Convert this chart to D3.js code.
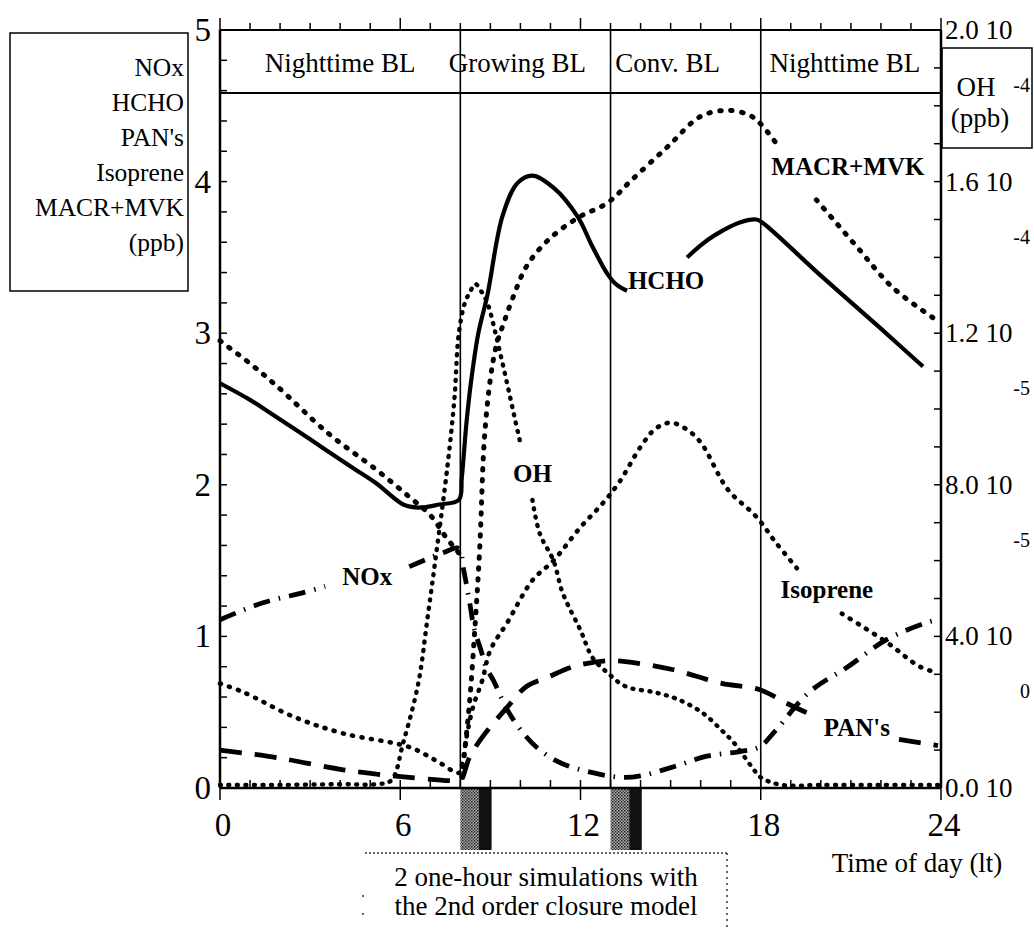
<!doctype html>
<html>
<head>
<meta charset="utf-8">
<title>Boundary layer chemistry</title>
<script src="https://cdn.jsdelivr.net/npm/d3@7"></script>
<style>
  body { margin: 0; background: #fff; }
  text { font-family: "Liberation Serif", "Times New Roman", serif; fill: #000; }
</style>
</head>
<body>
<script>

// DATA (hour of day, ppb) - null breaks the line where a label sits
var hcho = [[0,2.67],[1,2.56],[1.7,2.47],[3,2.30],[4.35,2.12],[5.2,2.01],[6.1,1.87],[6.6,1.85],[7.3,1.87],[7.95,1.90],
  [8.05,2.05],[8.2,2.4],[8.35,2.67],[8.6,3.0],[8.9,3.25],[9.4,3.77],[9.9,3.99],[10.4,4.04],[11.1,3.96],[11.9,3.77],
  [12.4,3.57],[12.9,3.39],[13.2,3.32],[13.55,3.28], null,
  [15.55,3.50],[16,3.58],[16.5,3.65],[17.3,3.73],[17.85,3.75],[18.05,3.73],[20,3.38],[22,3.03],[23.4,2.78]];

var macrMvk = [[0,2.95],[1,2.8],[1.9,2.65],[3.6,2.34],[5.2,2.10],[6.3,1.92],[7.0,1.8],[7.5,1.66],[7.95,1.55], null,
  [8.05,0.07],[8.3,0.55],[8.5,1.1],[8.65,1.6],[8.8,2.3],[9.0,2.7],[9.2,2.92],[9.45,3.07],[9.76,3.24],[10.2,3.44],
  [10.9,3.61],[11.9,3.76],[12.9,3.86],[13.7,4.01],[14.9,4.23],[16.0,4.43],[16.9,4.47],[17.6,4.44],[17.95,4.39],[18.6,4.23], null,
  [19.85,3.88],[21.2,3.57],[22.4,3.30],[23.9,3.08]];

var isoprene = [[0,0.69],[0.8,0.63],[2.45,0.47],[4.1,0.36],[6.3,0.27],[7.2,0.18],[7.95,0.10],
  [8.05,0.15],[8.23,0.36],[8.43,0.54],[8.73,0.71],[9.0,0.91],[9.56,1.09],[10.4,1.37],[11.1,1.50],[12.0,1.72],
  [12.75,1.88],[13.3,2.02],[14,2.25],[14.5,2.37],[15,2.41],[15.5,2.37],[16,2.28],[16.9,1.97],[17.85,1.79],
  [18.5,1.62],[19.2,1.45], null,
  [20.7,1.15],[22.2,0.96],[23.3,0.80],[23.9,0.76]];

var nox = [[0,1.11],[1.4,1.22],[2.8,1.29],[3.5,1.33], null,
  [6.3,1.46],[7.4,1.55],[7.95,1.58],[8.1,1.45],[8.33,1.2],[8.45,1.06],[8.7,0.9],[8.85,0.8],[9.1,0.71],[9.55,0.52],
  [10.1,0.36],[10.65,0.25],[11.4,0.16],[12.65,0.09],[13.4,0.07],[14,0.08],[15.1,0.14],[16.2,0.21],[17.3,0.24],
  [17.95,0.27],[18.5,0.38],[19.6,0.63],[20.9,0.80],[22.2,0.98],[23.5,1.09],[23.9,1.11]];

var pans = [[0,0.25],[1.9,0.2],[4.1,0.12],[6.3,0.07],[7.95,0.05],[8.05,0.06],[8.3,0.2],[8.75,0.34],[9.55,0.53],
  [10.2,0.67],[10.9,0.73],[11.75,0.80],[12.9,0.84],[14,0.82],[15.1,0.78],[16.7,0.69],[17.95,0.65],[18.85,0.56],
  [19.6,0.49], null,
  [22.6,0.32],[23.9,0.28]];

// OH on the right axis, in 10^-5 ppb
var oh = [[0,0.08],[2,0.08],[4,0.1],[5.2,0.1],[5.7,0.2],[6.1,1.2],[6.6,2.76],[6.9,4.44],[7.2,6.2],[7.57,8.48],
  [7.8,10.24],[7.95,12.0],[8.15,12.8],[8.33,13.1],[8.5,13.3],[8.7,13.1],[8.9,12.8],[9.2,11.9],[9.55,10.7],
  [9.8,9.8],[10.0,9.1], null,
  [10.4,7.6],[10.65,6.7],[11.1,6.0],[11.4,5.16],[12,4.16],[12.4,3.44],[12.9,3.04],[13.5,2.68],[14.5,2.52],
  [15.3,2.32],[16.1,1.96],[16.7,1.52],[17.1,1.2],[17.7,0.56],[18,0.28],[18.7,0.08],[20,0.08],[22,0.08],[23.9,0.08]];

// REGIMES AND TICK LABELS
var regimeBounds = [8, 13, 18];
var regimes = [{name:"Nighttime BL", at:4.0}, {name:"Growing BL", at:9.9}, {name:"Conv. BL", at:14.9}, {name:"Nighttime BL", at:20.8}];
var simHours = [8, 13];
var leftTicks = [0, 1, 2, 3, 4, 5];
var hourTicks = [0, 6, 12, 18, 24];
var rightTicks = [0, 4, 8, 12, 16, 20];
var rightLabels = ["0.0 10", "4.0 10", "8.0 10", "1.2 10", "1.6 10", "2.0 10"];
var rightExps = ["", "0", "-5", "-5", "-4", "-4"];
var leftTitle = ["NOx", "HCHO", "PAN's", "Isoprene", "MACR+MVK", "(ppb)"];

var W = 1034, H = 930;
var svg = d3.select("body").append("svg").attr("width", W).attr("height", H);

var x = d3.scaleLinear().domain([0, 24]).range([220, 941]);
var y = d3.scaleLinear().domain([0, 5]).range([788, 30]);
var yR = d3.scaleLinear().domain([0, 20]).range([788, 30]);

//STIPPLE PATTERN FOR SIMULATION BLOCKS
var defs = svg.append("defs");
var pat = defs.append("pattern").attr("id", "stip").attr("width", 3).attr("height", 3).attr("patternUnits", "userSpaceOnUse");
pat.append("rect").attr("width", 3).attr("height", 3).attr("fill", "#aaa");
pat.append("rect").attr("width", 1.5).attr("height", 1.5).attr("fill", "#222");
pat.append("rect").attr("x", 1.5).attr("y", 1.5).attr("width", 1.5).attr("height", 1.5).attr("fill", "#444");

svg.selectAll(".simA").data(simHours).enter().append("rect")
  .attr("x", function(d){ return x(d); })
  .attr("y", y(0))
  .attr("width", x(0.62) - x(0))
  .attr("height", 62)
  .attr("fill", "url(#stip)");
svg.selectAll(".simB").data(simHours).enter().append("rect")
  .attr("x", function(d){ return x(d + 0.62); })
  .attr("y", y(0))
  .attr("width", x(0.42) - x(0))
  .attr("height", 62)
  .attr("fill", "#111");

//FRAME: AXES, HEADER BAND, REGIME LINES
var frame = svg.append("g").attr("stroke", "#000").attr("fill", "none");
frame.append("line").attr("x1", x(0)).attr("x2", x(0)).attr("y1", y(5)).attr("y2", y(0)).attr("stroke-width", 2.5);
frame.append("line").attr("x1", x(24)).attr("x2", x(24)).attr("y1", y(5)).attr("y2", y(0)).attr("stroke-width", 2.5);
frame.append("line").attr("x1", x(0)).attr("x2", x(24)).attr("y1", y(0)).attr("y2", y(0)).attr("stroke-width", 2.5);
frame.append("line").attr("x1", x(0)).attr("x2", x(24)).attr("y1", y(5)).attr("y2", y(5)).attr("stroke-width", 2);
frame.append("line").attr("x1", x(0)).attr("x2", x(24)).attr("y1", 93).attr("y2", 93).attr("stroke-width", 2);
frame.selectAll(".reg").data(regimeBounds).enter().append("line")
  .attr("x1", function(d){ return x(d); }).attr("x2", function(d){ return x(d); })
  .attr("y1", y(5)).attr("y2", y(0)).attr("stroke-width", 1.6);

// ticks
var hoursAll = d3.range(0, 25);
frame.selectAll(".bt").data(hoursAll).enter().append("line")
  .attr("x1", function(d){ return x(d); }).attr("x2", function(d){ return x(d); })
  .attr("y1", function(d){ return d % 6 == 0 ? y(0) + 12 : y(0); })
  .attr("y2", y(0) - 8).attr("stroke-width", 1.5);
frame.selectAll(".tt").data(hoursAll).enter().append("line")
  .attr("x1", function(d){ return x(d); }).attr("x2", function(d){ return x(d); })
  .attr("y1", y(5)).attr("y2", function(d){ return d % 6 == 0 ? y(5) - 12 : y(5) - 7; }).attr("stroke-width", 1.5);
frame.selectAll(".lt").data(d3.range(0, 26).map(function(i){ return i * 0.2; })).enter().append("line")
  .attr("x1", x(0)).attr("x2", x(0) + 7)
  .attr("y1", function(d){ return y(d); }).attr("y2", function(d){ return y(d); }).attr("stroke-width", 1.5);
frame.selectAll(".rt").data(d3.range(0, 21)).enter().append("line")
  .attr("x1", x(24)).attr("x2", x(24) - 7)
  .attr("y1", function(d){ return yR(d); }).attr("y2", function(d){ return yR(d); }).attr("stroke-width", 1.5);

//TICK LABELS
svg.selectAll(".ll").data(leftTicks).enter().append("text")
  .attr("x", x(0) - 9).attr("y", function(d){ return y(d) + 11; })
  .attr("text-anchor", "end").attr("font-size", 33).text(function(d){ return d; });
svg.selectAll(".bl").data(hourTicks).enter().append("text")
  .attr("x", function(d){ return x(d) + 3; }).attr("y", 836)
  .attr("text-anchor", "middle").attr("font-size", 33).text(function(d){ return d; });
svg.selectAll(".rl").data(rightTicks).enter().append("text")
  .attr("x", x(24) + 4).attr("y", function(d){ return yR(d) + 9; })
  .attr("font-size", 27).text(function(d, i){ return rightLabels[i]; });
svg.selectAll(".re").data(rightTicks).enter().append("text")
  .attr("x", 1030).attr("y", function(d){ return yR(d) + 62; })
  .attr("text-anchor", "end").attr("font-size", 20).text(function(d, i){ return rightExps[i]; });

//HEADER BAND LABELS
svg.selectAll(".rg").data(regimes).enter().append("text")
  .attr("x", function(d){ return x(d.at); }).attr("y", 72)
  .attr("text-anchor", "middle").attr("font-size", 27).text(function(d){ return d.name; });

//SERIES LINES
var line = d3.line()
  .defined(function(d){ return d != null; })
  .x(function(d){ return x(d[0]); })
  .y(function(d){ return y(d[1]); })
  .curve(d3.curveCatmullRom.alpha(0.5));
var lineR = d3.line()
  .defined(function(d){ return d != null; })
  .x(function(d){ return x(d[0]); })
  .y(function(d){ return yR(d[1]); })
  .curve(d3.curveCatmullRom.alpha(0.5));

var series = [
  {data: macrMvk, gen: line, w: 5, dash: "1.5 9.5"},
  {data: isoprene, gen: line, w: 4.6, dash: "1 8.5"},
  {data: oh, gen: lineR, w: 4.4, dash: "1 7.5"},
  {data: pans, gen: line, w: 4.8, dash: "22 13"},
  {data: nox, gen: line, w: 4.8, dash: "17 9 1.5 9"},
  {data: hcho, gen: line, w: 4.2, dash: null}
];
svg.selectAll(".series").data(series).enter().append("path")
  .attr("d", function(d){ return d.gen(d.data); })
  .attr("fill", "none")
  .attr("stroke", "#000")
  .attr("stroke-width", function(d){ return d.w; })
  .attr("stroke-linecap", function(d){ return d.dash && +d.dash.split(" ")[0] < 2 ? "round" : "butt"; })
  .attr("stroke-dasharray", function(d){ return d.dash; });

//IN-PLOT LABELS
var inLabels = [
  {t:"NOx", h:4.9, v:1.40}, {t:"OH", h:10.4, v:2.08}, {t:"HCHO", h:14.85, v:3.35},
  {t:"MACR+MVK", h:20.9, v:4.10}, {t:"Isoprene", h:20.2, v:1.31}, {t:"PAN's", h:21.2, v:0.40}
];
svg.selectAll(".il").data(inLabels).enter().append("text")
  .attr("x", function(d){ return x(d.h); }).attr("y", function(d){ return y(d.v) + 9; })
  .attr("text-anchor", "middle").attr("font-size", 25).attr("font-weight", "bold")
  .text(function(d){ return d.t; });

//LEFT TITLE BOX
svg.append("rect").attr("x", 10).attr("y", 33).attr("width", 178).attr("height", 258)
  .attr("fill", "none").attr("stroke", "#000").attr("stroke-width", 1.5);
svg.selectAll(".lb").data(leftTitle).enter().append("text")
  .attr("x", 184).attr("y", function(d, i){ return 76 + i * 35; })
  .attr("text-anchor", "end").attr("font-size", 25.5).text(function(d){ return d; });

//OH BOX
svg.append("rect").attr("x", 942).attr("y", 48).attr("width", 90).attr("height", 100)
  .attr("fill", "none").attr("stroke", "#000").attr("stroke-width", 1.5);
svg.append("text").attr("x", 976).attr("y", 96).attr("text-anchor", "middle").attr("font-size", 27).text("OH");
svg.append("text").attr("x", 980).attr("y", 127).attr("text-anchor", "middle").attr("font-size", 27).text("(ppb)");

//BOTTOM NOTE
var note = svg.append("g").attr("stroke", "#333").attr("stroke-width", 1.5).attr("fill", "none");
note.append("line").attr("x1", 365).attr("x2", 727).attr("y1", 853).attr("y2", 853).attr("stroke-dasharray", "2 2");
note.append("line").attr("x1", 727).attr("x2", 727).attr("y1", 853).attr("y2", 930).attr("stroke-dasharray", "2 4");
note.append("line").attr("x1", 363).attr("x2", 363).attr("y1", 895).attr("y2", 930).attr("stroke-dasharray", "2 16");
svg.append("text").attr("x", 546).attr("y", 886).attr("text-anchor", "middle").attr("font-size", 27).text("2 one-hour simulations with");
svg.append("text").attr("x", 546).attr("y", 915).attr("text-anchor", "middle").attr("font-size", 27).text("the 2nd order closure model");
svg.append("text").attr("x", 917).attr("y", 872).attr("text-anchor", "middle").attr("font-size", 27).text("Time of day (lt)");

</script>
</body>
</html>
